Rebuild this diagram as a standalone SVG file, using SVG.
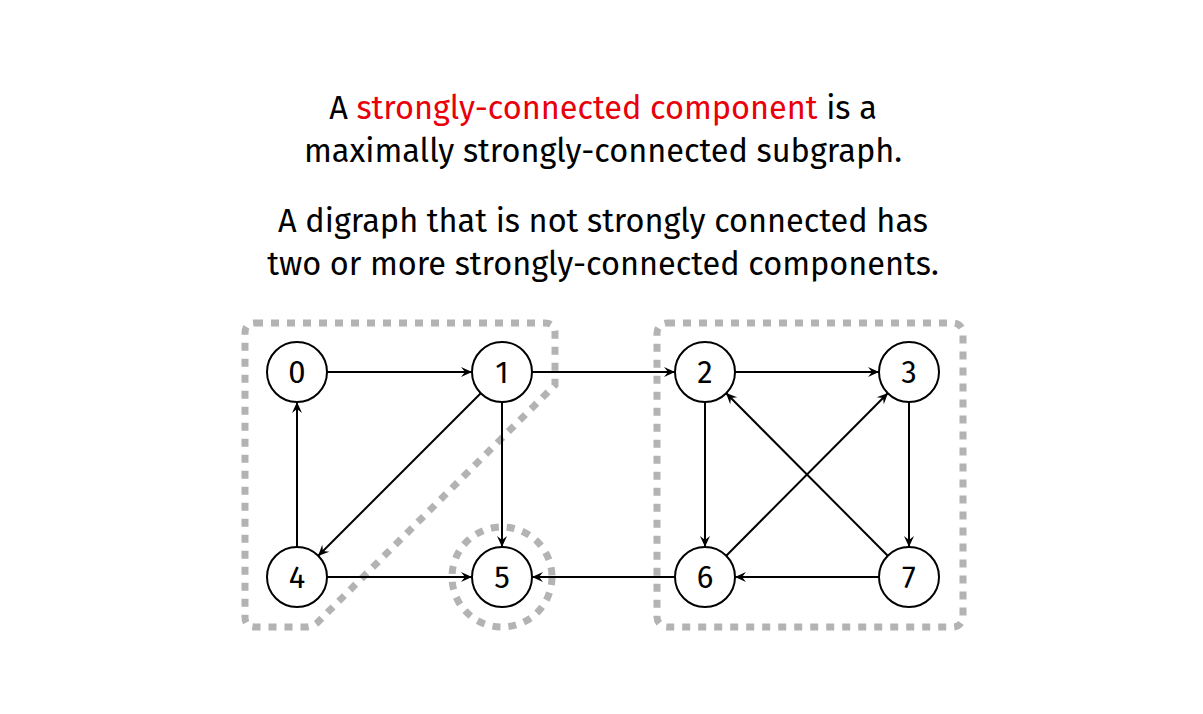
<svg xmlns="http://www.w3.org/2000/svg" width="1203" height="714" viewBox="0 0 1203 714">
<style>
.t{font-family:"Fira Sans","Open Sans","DejaVu Sans",sans-serif;font-size:32.5px;text-anchor:middle;fill:#000}
.n circle{fill:#fff;stroke:#000;stroke-width:2}
.n text{font-family:"Fira Sans","Open Sans","DejaVu Sans",sans-serif;font-size:31px;text-anchor:middle;fill:#000}
.e line{stroke:#000;stroke-width:2;marker-end:url(#a)}
.r{fill:none;stroke:#b3b3b3;stroke-width:7;stroke-dasharray:8 8}
</style>
<defs><marker id="a" markerWidth="14" markerHeight="12" refX="12" refY="6" orient="auto" markerUnits="userSpaceOnUse"><path d="M1,1 L12,6 L1,11 L5,6 Z" fill="#000"/></marker></defs>
<rect width="1203" height="714" fill="#fff"/>
<text class="t" x="603" y="119">A <tspan fill="#e8000b">strongly-connected component</tspan> is a</text>
<text class="t" x="603" y="162">maximally strongly-connected subgraph.</text>
<text class="t" x="603" y="232">A digraph that is not strongly connected has</text>
<text class="t" x="603" y="275">two or more strongly-connected components.</text>
<g id="regions">
<path class="r" d="M255,323 L545,323 Q555,323 555,333 L555,385 L318,622 Q313,627 305,627 L255,627 Q245,627 245,617 L245,333 Q245,323 255,323 Z"/>
<circle class="r" cx="502" cy="577" r="50"/>
<rect class="r" x="657" y="323" width="306" height="304" rx="10"/>
</g>
<g id="edges" class="e">
<line x1="327" y1="372" x2="472" y2="372"/>
<line x1="532" y1="372" x2="675" y2="372"/>
<line x1="735" y1="372" x2="879" y2="372"/>
<line x1="297" y1="547" x2="297" y2="402"/>
<line x1="481" y1="393" x2="318" y2="556"/>
<line x1="502" y1="402" x2="502" y2="547"/>
<line x1="327" y1="577" x2="472" y2="577"/>
<line x1="675" y1="577" x2="532" y2="577"/>
<line x1="879" y1="577" x2="735" y2="577"/>
<line x1="705" y1="402" x2="705" y2="547"/>
<line x1="909" y1="402" x2="909" y2="547"/>
<line x1="726" y1="556" x2="888" y2="393"/>
<line x1="888" y1="556" x2="726" y2="393"/>
</g>
<g id="n0" class="n"><circle cx="297" cy="372" r="30"/><text x="297" y="383">0</text></g>
<g id="n1" class="n"><circle cx="502" cy="372" r="30"/><text x="502" y="383">1</text></g>
<g id="n2" class="n"><circle cx="705" cy="372" r="30"/><text x="705" y="383">2</text></g>
<g id="n3" class="n"><circle cx="909" cy="372" r="30"/><text x="909" y="383">3</text></g>
<g id="n4" class="n"><circle cx="297" cy="577" r="30"/><text x="297" y="588">4</text></g>
<g id="n5" class="n"><circle cx="502" cy="577" r="30"/><text x="502" y="588">5</text></g>
<g id="n6" class="n"><circle cx="705" cy="577" r="30"/><text x="705" y="588">6</text></g>
<g id="n7" class="n"><circle cx="909" cy="577" r="30"/><text x="909" y="588">7</text></g>
</svg>
